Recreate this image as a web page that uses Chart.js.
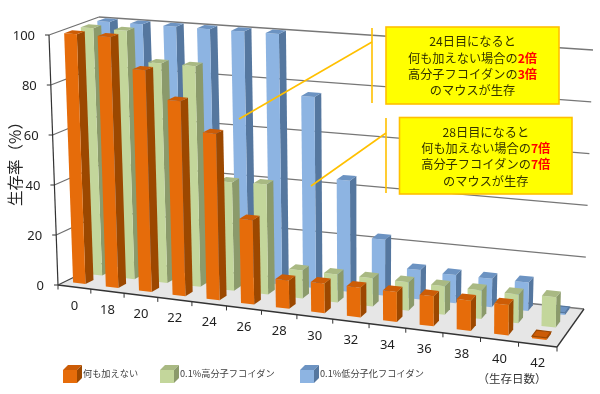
<!DOCTYPE html>
<html><head><meta charset="utf-8">
<style>html,body{margin:0;padding:0;background:#fff}canvas{display:block;filter:blur(.3px)}</style>
<script src="https://cdn.jsdelivr.net/npm/chart.js@4/dist/chart.umd.min.js"></script>
</head><body><canvas id="c" width="600" height="394"></canvas>
<script>
const days = ['0','18','20','22','24','26','28','30','32','34','36','38','40','42'];
const yTicks = [0,20,40,60,80,100];
const noTreatment = [100,100,88,77,65.5,33,11,11.5,11.5,11.5,11.5,11.5,11.5,0.8];
const highMw = [100,100,88,88,43,43.5,11,11,11,11,11,11,11,11.5];
const lowMw = [100,100,100,100,100,100,76,44,22,11.5,11,11,11,0.8];
const seriesNames = ['何も加えない','0.1%高分子フコイダン','0.1%低分子化フコイダン'];
const yTitle = '生存率（%）';
const xTitle = '（生存日数）';
const note1 = [[['24日目になると']],[['何も加えない場合の'],['2倍',1]],[['高分子フコイダンの'],['3倍',1]],[['のマウスが生存']]];
const note2 = [[['28日目になると']],[['何も加えない場合の'],['7倍',1]],[['高分子フコイダンの'],['7倍',1]],[['のマウスが生存']]];

// View of the 3D box: [front/back][left/right][bottom/top]
const corners = {
  flb:[58,285], flt:[49,35], frb:[557,347], frt:[559,80],
  blb:[109,260], blt:[99,17], brb:[584,309], brt:[593,50]
};
const lerp=(a,b,t)=>[a[0]+(b[0]-a[0])*t,a[1]+(b[1]-a[1])*t];
function P(u,w,v){
  const us=.915*u+.085*u*u;
  const fb=lerp(corners.flb,corners.frb,us), ft=lerp(corners.flt,corners.frt,us);
  const bb=lerp(corners.blb,corners.brb,us), bt=lerp(corners.blt,corners.brt,us);
  return lerp(lerp(fb,ft,v),lerp(bb,bt,v),w);
}
function poly(ctx,pts,fill,stroke){
  ctx.beginPath();pts.forEach((p,i)=>i?ctx.lineTo(p[0],p[1]):ctx.moveTo(p[0],p[1]));ctx.closePath();
  if(fill){ctx.fillStyle=fill;ctx.fill();}
  if(stroke){ctx.strokeStyle=stroke;ctx.lineWidth=1.2;ctx.stroke();}
}
function seg(ctx,a,b,col,lw){ctx.beginPath();ctx.moveTo(a[0],a[1]);ctx.lineTo(b[0],b[1]);ctx.strokeStyle=col;ctx.lineWidth=lw;ctx.stroke();}

const shades=[{side:'#9c4800',top:'#cc5c06'},{side:'#8b9a6b',top:'#a9b983'},{side:'#55779f',top:'#6c93c2'}];
const depthStart=.137, depthSize=.16, depthStep=.333, slotShift=-.06;

class Box3D extends Chart.BarElement{
  draw(ctx){
    const o=this.options, xs=this.$xs, ys=this.$ys, ds=this.$ds;
    if(!xs)return;
    const h=(this.x-this.width/2+slotShift*xs.width/days.length-xs.left)/xs.width;
    const r=(this.x+this.width/2+slotShift*xs.width/days.length-xs.left)/xs.width;
    const v=(ys.bottom-this.y)/ys.height;
    const w0=depthStart+ds*depthStep,w1=w0+depthSize;
    const s=shades[ds];
    poly(ctx,[P(r,w0,0),P(r,w1,0),P(r,w1,v),P(r,w0,v)],s.side);
    poly(ctx,[P(h,w0,0),P(r,w0,0),P(r,w0,v),P(h,w0,v)],o.backgroundColor);
    poly(ctx,[P(h,w0,v),P(r,w0,v),P(r,w1,v),P(h,w1,v)],s.top,v<.02?s.side:null);
  }
}
Box3D.id='box3d';
Box3D.defaults=Chart.BarElement.defaults;
Chart.register(Box3D);
class Bar3D extends Chart.BarController{
  updateElements(bars,start,count,mode){
    super.updateElements(bars,start,count,mode);
    const m=this.getMeta();
    bars.forEach(b=>{b.$xs=m.xScale;b.$ys=m.yScale;b.$ds=this.index;});
  }
}
Bar3D.id='bar3d';
Bar3D.defaults={...Chart.BarController.defaults,dataElementType:'box3d'};
Chart.register(Bar3D);

function drawNote(ctx,lines,box,vx,vy,diag){
  seg(ctx,[vx,vy[0]],[vx,vy[1]],'#FFC000',1.6);
  seg(ctx,[vx,diag[1]],[diag[2],diag[3]],'#FFC000',1.6);
  ctx.fillStyle='#FFFF00';ctx.fillRect(box[0],box[1],box[2],box[3]);
  ctx.strokeStyle='#FFC000';ctx.lineWidth=1.6;ctx.strokeRect(box[0],box[1],box[2],box[3]);
  ctx.textBaseline='middle';ctx.textAlign='left';
  const cy=box[1]+14.5, cx=box[0]+box[2]/2;
  lines.forEach((parts,i)=>{
    const fnt=p=>(p[1]?'bold ':'')+'12.2px "Noto Sans CJK JP"';
    let tw=0;parts.forEach(p=>{ctx.font=fnt(p);tw+=ctx.measureText(p[0]).width;});
    let x=cx-tw/2;
    parts.forEach(p=>{ctx.font=fnt(p);ctx.fillStyle=p[1]?'#FF0000':'#333300';ctx.fillText(p[0],x,cy+i*16.4);x+=ctx.measureText(p[0]).width;});
  });
}

const scene={
  id:'scene',
  beforeDatasetsDraw(chart){
    const ctx=chart.ctx,ys=chart.scales.y,xs=chart.scales.x;
    ctx.save();
    // floor
    poly(ctx,[P(0,0,0),P(1,0,0),P(1,1,0),P(0,1,0)],'#e6e6e6');
    // wall grid from the library's y scale
    ys.ticks.forEach(t=>{
      const v=(ys.bottom-ys.getPixelForValue(t.value))/ys.height;
      if(v>0){ seg(ctx,P(0,0,v),P(0,1,v),'#6f6f6f',1.2); }
      seg(ctx,P(0,1,v),P(1,1,v),'#777777',1.3);
      const a=P(0,0,v);
      seg(ctx,a,[a[0]-4,a[1]],'#333',1);
      ctx.font='13px "Noto Sans"';ctx.fillStyle='#1f1f1f';ctx.textAlign='right';ctx.textBaseline='middle';
      ctx.fillText(t.label,a[0]-14,a[1]+1.5);
    });
    seg(ctx,P(0,0,0),P(0,0,1),'#333',1.2);
    seg(ctx,P(0,0,0),P(1,0,0),'#333',1.3);
    seg(ctx,P(1,0,0),P(1,1,0),'#333',1.3);
    seg(ctx,P(0,0,0),P(0,1,0),'#444',1.2);
    // category ticks and labels
    const n=xs.getLabels().length;
    for(let k=0;k<=n;k++){
      const p=P(k/n,0,0);
      seg(ctx,p,[p[0],p[1]+4.5],'#333',1);
      if(k<n){
        const q=P((k+.5)/n,0,0);
        ctx.font='13px "Noto Sans"';ctx.fillStyle='#1f1f1f';ctx.textAlign='center';ctx.textBaseline='middle';
        ctx.fillText(xs.getLabels()[k],q[0],q[1]+19);
      }
    }
    ctx.restore();
  },
  afterDatasetsDraw(chart){
    const ctx=chart.ctx;
    ctx.save();
    drawNote(ctx,note1,[386,27,173,77],372,[28,103],[0,42,239,119]);
    drawNote(ctx,note2,[399.5,117.5,172.5,76.5],386,[118,193],[0,133,311,186]);
    // axis titles
    ctx.fillStyle='#262626';ctx.font='15.5px "Noto Sans CJK JP"';ctx.textAlign='center';ctx.textBaseline='middle';
    ctx.save();ctx.translate(15,160);ctx.rotate(-Math.PI/2);ctx.fillText(yTitle,0,0);ctx.restore();
    ctx.font='11.5px "Noto Sans CJK JP"';ctx.fillStyle='#333';ctx.fillText(xTitle,512,379);
    // legend
    const lx=[63,160,300];
    chart.data.datasets.forEach((d,i)=>{
      const x=lx[i],y=370,s=shades[i];
      poly(ctx,[[x,y],[x+14,y],[x+19,y-5],[x+5,y-5]],s.top);
      poly(ctx,[[x+14,y],[x+19,y-5],[x+19,y+8],[x+14,y+13]],s.side);
      poly(ctx,[[x,y],[x+14,y],[x+14,y+13],[x,y+13]],d.backgroundColor);
      ctx.font='9.2px "Noto Sans CJK JP"';ctx.fillStyle='#404040';ctx.textAlign='left';ctx.textBaseline='middle';
      ctx.fillText(d.label,x+20,374);
    });
    ctx.restore();
  }
};

new Chart(document.getElementById('c'),{
  type:'bar3d',
  data:{labels:days,datasets:[
    {label:seriesNames[0],data:noTreatment,backgroundColor:'#E66C0A',clip:false},
    {label:seriesNames[1],data:highMw,backgroundColor:'#C3D69B',clip:false},
    {label:seriesNames[2],data:lowMw,backgroundColor:'#8DB4E2',clip:false}
  ]},
  options:{
    responsive:false,animation:false,
    layout:{padding:{top:35,bottom:109,left:49,right:40}},
    datasets:{bar3d:{grouped:false,categoryPercentage:1,barPercentage:.38}},
    plugins:{legend:{display:false},tooltip:{enabled:false}},
    scales:{
      x:{type:'category',offset:true,ticks:{display:false},grid:{display:false},border:{display:false}},
      y:{type:'linear',min:0,max:100,afterBuildTicks(s){s.ticks=yTicks.map(v=>({value:v}));},ticks:{display:false},grid:{display:false},border:{display:false}}
    }
  },
  plugins:[scene]
});
</script></body></html>
